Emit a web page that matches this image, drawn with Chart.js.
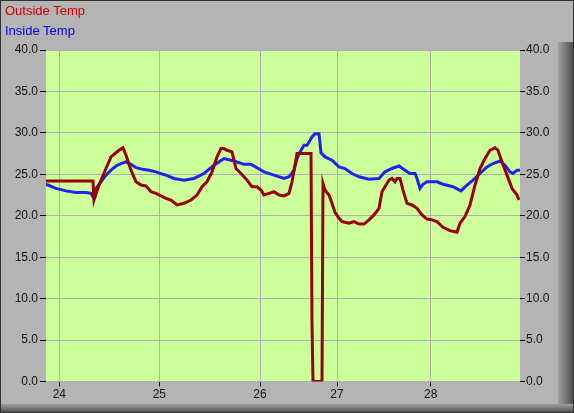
<!DOCTYPE html>
<html>
<head>
<meta charset="utf-8">
<script src="https://cdn.jsdelivr.net/npm/chart.js@4.4.1/dist/chart.umd.min.js"></script>
<style>
  body { margin: 0; background: #b2b2b2; }
  #wrap { position: relative; width: 574px; height: 413px; }
  .leg { position: absolute; left: 5px; font: 13px "Liberation Sans", Arial, sans-serif; }
</style>
</head>
<body>
<div id="wrap">
  <canvas id="chart" width="574" height="413"></canvas>
  <div class="leg" style="top: 3px; color: #cc0000;">Outside Temp</div>
  <div class="leg" style="top: 23px; color: #0000ee;">Inside Temp</div>
</div>
<script>
// x axis is in sample position units, day labels sit at these positions
const dayPos = [13.3, 113.3, 214, 291, 384.7];
const dayLabels = ['24', '25', '26', '27', '28'];

// outside sensor
const outsideX = [0, 47, 48, 53, 60, 65, 70, 73, 77, 80, 85, 90, 95, 100, 105, 110, 115, 120, 125, 131,
  138, 145, 151, 156, 161, 166, 171, 175, 178, 181, 186, 190, 195, 201, 206, 211, 215, 218, 223, 228,
  233, 238, 243, 246, 249, 251, 265, 266, 267, 276, 277, 279, 283, 286, 289, 293, 296, 303, 308, 313,
  318, 323, 328, 333, 336, 339, 343, 346, 349, 351, 354, 357, 361, 366, 371, 376, 381, 386, 391, 397,
  404, 411, 414, 419, 424, 429, 434, 439, 444, 449, 452, 456, 461, 466, 471, 473];
const outsideTemp = [24.2, 24.2, 21.9, 23.7, 25.7, 27.1, 27.6, 27.9, 28.2, 27.3, 25.5, 24.1, 23.7, 23.6, 22.9, 22.7, 22.4, 22.1, 21.9, 21.3,
  21.5, 21.9, 22.5, 23.5, 24.1, 25.3, 27.1, 28.1, 28.1, 27.9, 27.7, 25.7, 25.1, 24.3, 23.5, 23.5, 23.1, 22.5, 22.7, 22.9,
  22.5, 22.4, 22.7, 24.1, 26.1, 27.5, 27.5, 7.0, 0, 0, 23.9, 23.1, 22.5, 21.5, 20.4, 19.7, 19.3, 19.1, 19.3, 19.0,
  19.0, 19.5, 20.1, 20.9, 22.9, 23.5, 24.3, 24.5, 24.1, 24.5, 24.5, 23.1, 21.5, 21.3, 20.9, 20.1, 19.6, 19.5, 19.3, 18.6,
  18.2, 18.0, 19.1, 19.9, 21.3, 23.7, 25.7, 26.9, 27.9, 28.2, 27.9, 26.5, 24.9, 23.3, 22.5, 21.9];

// inside sensor
const insideX = [0, 10, 20, 30, 40, 45, 47, 50, 55, 60, 65, 70, 75, 80, 85, 90, 97, 103, 110, 117,
  120, 128, 138, 148, 158, 168, 178, 188, 198, 205, 211, 218, 228, 238, 243, 248, 251, 254, 258, 261,
  263, 266, 269, 273, 275, 279, 286, 293, 299, 306, 313, 323, 333, 339, 346, 353, 359, 364, 369, 371,
  374, 377, 381, 391, 397, 407, 415, 421, 427, 434, 441, 447, 454, 459, 464, 467, 471, 474];
const insideTemp = [23.8, 23.3, 23.0, 22.8, 22.8, 22.7, 22.3, 23.3, 24.1, 24.9, 25.5, 26.0, 26.3, 26.5, 26.2, 25.8, 25.6, 25.5, 25.3, 25.0,
  24.9, 24.5, 24.3, 24.5, 25.1, 26.1, 26.9, 26.6, 26.2, 26.2, 25.8, 25.3, 24.9, 24.5, 24.7, 25.5, 26.9, 27.7, 28.5, 28.5,
  28.9, 29.5, 29.9, 29.9, 27.6, 27.1, 26.7, 25.9, 25.7, 25.1, 24.7, 24.4, 24.5, 25.3, 25.7, 26.0, 25.5, 25.1, 25.1, 24.5,
  23.3, 23.8, 24.1, 24.1, 23.8, 23.5, 23.0, 23.7, 24.3, 25.1, 25.9, 26.3, 26.6, 26.1, 25.3, 25.1, 25.5, 25.5];

const toPoints = (xs, ys) => xs.map((x, i) => ({ x: x, y: ys[i] }));

// gray panel + green plot background
const panelBg = {
  id: 'panelBg',
  beforeDraw(chart) {
    const ctx = chart.ctx;
    const a = chart.chartArea;
    ctx.save();
    ctx.fillStyle = '#b4b4b4';
    ctx.fillRect(0, 0, 574, 413);
    // bevel shadow right and bottom
    let g = ctx.createLinearGradient(558, 0, 574, 0);
    g.addColorStop(0, '#a0a0a0');
    g.addColorStop(1, '#4a4a4a');
    ctx.fillStyle = g;
    ctx.fillRect(558, 42, 16, 371);
    g = ctx.createLinearGradient(0, 404, 0, 413);
    g.addColorStop(0, '#a0a0a0');
    g.addColorStop(1, '#4a4a4a');
    ctx.fillStyle = g;
    ctx.fillRect(0, 404, 574, 9);
    ctx.strokeStyle = '#303030';
    ctx.lineWidth = 1;
    ctx.strokeRect(0.5, 0.5, 573, 412);
    ctx.fillStyle = '#ccff99';
    ctx.fillRect(a.left, a.top, a.right - a.left, a.bottom - a.top);
    ctx.restore();
  }
};

const tickFont = { family: '"Liberation Sans", Arial, sans-serif', size: 12 };

new Chart(document.getElementById('chart'), {
  type: 'line',
  data: {
    datasets: [{
      label: 'Outside Temp',
      data: toPoints(outsideX, outsideTemp),
      borderColor: '#990000',
      borderWidth: 3,
      pointRadius: 0,
      tension: 0,
      yAxisID: 'y'
    }, {
      label: 'Inside Temp',
      data: toPoints(insideX, insideTemp),
      borderColor: '#2222ee',
      borderWidth: 3,
      pointRadius: 0,
      tension: 0,
      yAxisID: 'y'
    }]
  },
  options: {
    responsive: false,
    animation: false,
    devicePixelRatio: 1,
    layout: { padding: { top: 50 } },
    plugins: {
      legend: { display: false },
      tooltip: { enabled: false }
    },
    scales: {
      x: {
        type: 'linear',
        min: 0,
        max: 474,
        afterBuildTicks: (scale) => { scale.ticks = dayPos.map(v => ({ value: v })); },
        afterFit: (scale) => { scale.height = 31.5; },
        border: { display: false },
        grid: { color: '#b0b0b0', tickColor: '#000', tickLength: 5 },
        ticks: { color: '#111', font: tickFont, padding: 1, maxRotation: 0,
          callback: (v, i) => dayLabels[i] }
      },
      y: {
        position: 'left',
        min: 0,
        max: 40,
        afterFit: (scale) => { scale.width = 46; },
        border: { display: false },
        grid: { color: '#b0b0b0', tickColor: '#000', tickLength: 6 },
        ticks: { stepSize: 5, color: '#111', font: tickFont, padding: 2,
          callback: (v) => v.toFixed(1) }
      },
      y2: {
        position: 'right',
        min: 0,
        max: 40,
        afterFit: (scale) => { scale.width = 54; },
        border: { display: false },
        grid: { drawOnChartArea: false, tickColor: '#000', tickLength: 5 },
        ticks: { stepSize: 5, color: '#111', font: tickFont, padding: 1,
          callback: (v) => v.toFixed(1) }
      }
    }
  },
  plugins: [panelBg]
});
</script>
</body>
</html>
